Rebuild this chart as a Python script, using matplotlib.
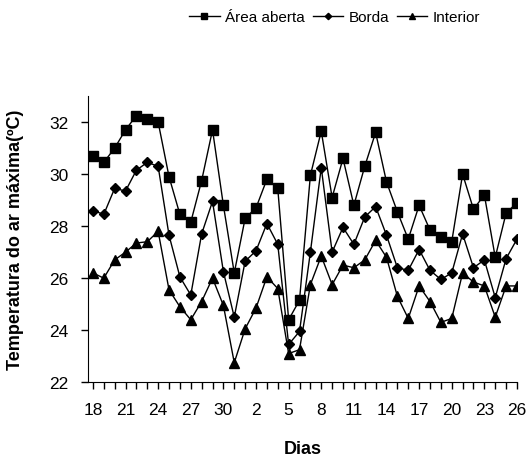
import numpy as np
import matplotlib
matplotlib.use('Agg')
import matplotlib.pyplot as plt
from matplotlib.ticker import FixedLocator, MultipleLocator

plt.rcParams['font.family'] = ['Liberation Sans Narrow', 'Liberation Sans', 'DejaVu Sans']

# dias: 18..31 e depois 1..26
dias = list(range(18, 32)) + list(range(1, 27))

area_aberta = [30.7, 30.45, 31.0, 31.7, 32.25, 32.1, 32.0, 29.9, 28.45, 28.15,
               29.75, 31.7, 28.8, 26.2, 28.3, 28.7, 29.8, 29.45, 24.4, 25.15,
               29.95, 31.65, 29.1, 30.6, 28.8, 30.3, 31.6, 29.7, 28.55, 27.5,
               28.8, 27.85, 27.6, 27.4, 30.0, 28.65, 29.2, 26.8, 28.5, 28.9]
borda = [28.6, 28.45, 29.45, 29.35, 30.15, 30.45, 30.3, 27.65, 26.05, 25.35,
         27.7, 28.95, 26.25, 24.5, 26.65, 27.05, 28.1, 27.3, 23.45, 23.95,
         27.0, 30.25, 27.0, 27.95, 27.3, 28.35, 28.75, 27.65, 26.4, 26.3,
         27.1, 26.3, 25.95, 26.2, 27.7, 26.4, 26.7, 25.25, 26.75, 27.5]
interior = [26.2, 26.0, 26.7, 27.0, 27.35, 27.4, 27.8, 25.55, 24.9, 24.4,
            25.1, 26.0, 24.95, 22.75, 24.05, 24.85, 26.05, 25.6, 23.1, 23.25,
            25.75, 26.85, 25.75, 26.5, 26.4, 26.7, 27.45, 26.8, 25.3, 24.45,
            25.7, 25.1, 24.3, 24.45, 26.2, 25.85, 25.7, 24.5, 25.7, 25.7]

x = np.arange(len(dias))

fig = plt.figure(figsize=(5.27, 4.6), dpi=100)
ax = fig.add_axes([0.167, 0.167, 0.814, 0.622])

ax.plot(x, area_aberta, color='black', lw=1, marker='s', ms=6.5, label='Área aberta')
ax.plot(x, borda, color='black', lw=1, marker='D', ms=5, label='Borda')
ax.plot(x, interior, color='black', lw=1, marker='^', ms=7, label='Interior')

ax.set_xlim(-0.45, 39)
ax.set_ylim(22, 33)
ax.xaxis.set_major_locator(FixedLocator(x[::3]))
ax.set_xticklabels([str(d) for d in dias[::3]])
ax.xaxis.set_minor_locator(MultipleLocator(1))
ax.set_yticks([22, 24, 26, 28, 30, 32])

for s in ['top', 'right']:
    ax.spines[s].set_visible(False)
ax.spines['left'].set_bounds(22, 33)
ax.tick_params(axis='both', which='both', direction='out', length=5, width=1,
               labelsize=12.5, color='black')
ax.tick_params(axis='x', pad=9)
ax.tick_params(axis='y', pad=9)

ax.set_xlabel('Dias', fontsize=13, fontweight='bold', labelpad=17)
ax.set_ylabel('Temperatura do ar máxima(ºC)', fontsize=13, fontweight='bold', labelpad=18)

fig.legend(loc='center', bbox_to_anchor=(0.635, 0.96), ncol=3, frameon=False,
           fontsize=11, handlelength=2.0, handletextpad=0.35, columnspacing=0.5,
           markerscale=0.65)

fig.savefig('out.png', dpi=100)
